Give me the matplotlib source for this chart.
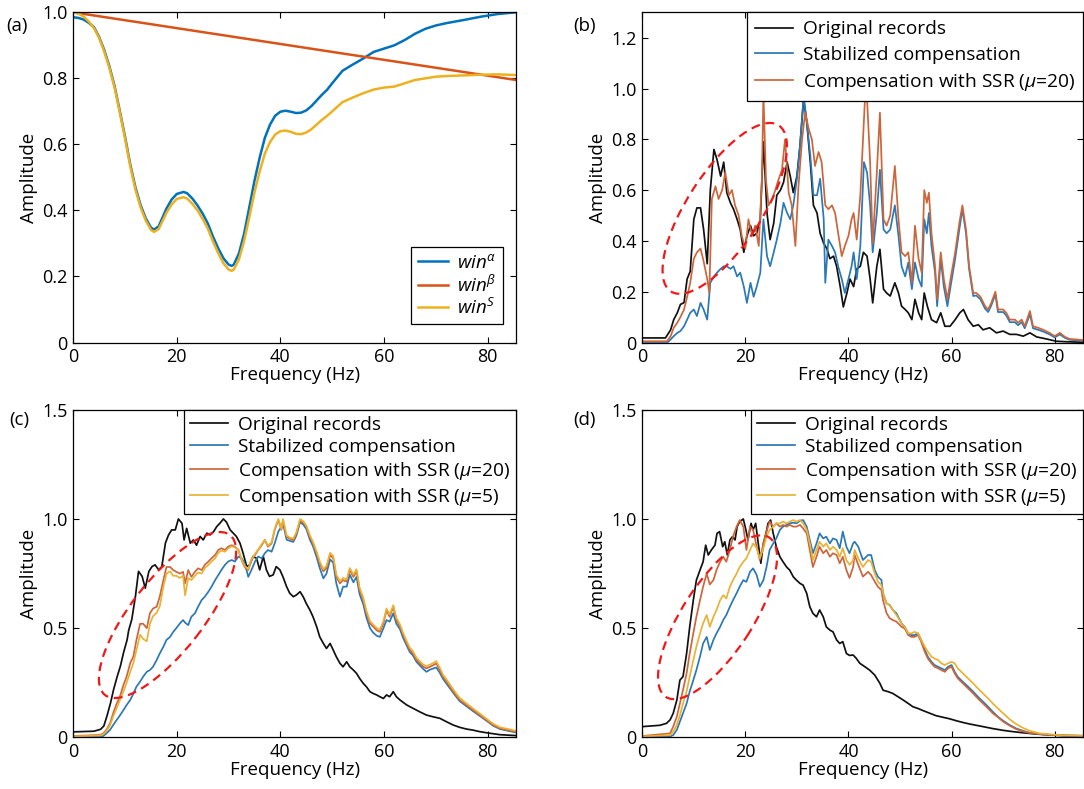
import matplotlib
matplotlib.use('Agg')
import matplotlib.pyplot as plt
from matplotlib.patches import Ellipse
from matplotlib.transforms import ScaledTranslation
from matplotlib.ticker import FuncFormatter

plt.rcParams['font.family'] = ['Open Sans', 'DejaVu Sans']
plt.rcParams['mathtext.fontset'] = 'custom'
plt.rcParams['mathtext.it'] = 'Open Sans:italic'
plt.rcParams['mathtext.rm'] = 'Open Sans'
plt.rcParams['font.size'] = 13

# ---------------- panel (a): window functions ----------------
a_f = [0, 1, 2, 3, 4, 5, 6, 7, 8, 9, 10, 11, 12, 13, 14, 15, 15.6, 16.5, 17, 18, 19, 20, 21.3,
       22, 23, 24, 25, 26, 27, 28, 29, 30, 30.6, 31, 32, 33, 34, 35, 36, 37, 38, 39, 40, 41,
       42, 43, 44, 45, 46, 47, 48, 49, 50, 52, 54, 56, 58, 60, 62, 64, 66, 68, 70, 72, 75.5,
       78.8, 82.1, 85.5]
a_win_alpha = [0.985, 0.983, 0.978, 0.968, 0.955, 0.925, 0.885, 0.835, 0.775, 0.70, 0.623, 0.54,
               0.47, 0.416, 0.376, 0.348, 0.342, 0.352, 0.37, 0.406, 0.433, 0.45, 0.456, 0.452,
               0.436, 0.415, 0.39, 0.36, 0.32, 0.285, 0.255, 0.236, 0.232, 0.236, 0.27, 0.33,
               0.41, 0.49, 0.56, 0.62, 0.66, 0.687, 0.699, 0.702, 0.699, 0.695, 0.696, 0.703,
               0.716, 0.733, 0.75, 0.765, 0.785, 0.823, 0.842, 0.86, 0.88, 0.89, 0.90, 0.916,
               0.935, 0.95, 0.96, 0.967, 0.977, 0.987, 0.995, 1.0]
a_win_s = [1.0, 0.996, 0.987, 0.972, 0.952, 0.922, 0.88, 0.83, 0.77, 0.695, 0.617, 0.534, 0.463,
           0.409, 0.369, 0.341, 0.335, 0.344, 0.36, 0.393, 0.418, 0.435, 0.44, 0.436, 0.42, 0.40,
           0.374, 0.344, 0.305, 0.27, 0.24, 0.221, 0.217, 0.221, 0.252, 0.308, 0.38, 0.455,
           0.518, 0.572, 0.607, 0.63, 0.64, 0.642, 0.638, 0.632, 0.631, 0.636, 0.646, 0.66,
           0.674, 0.686, 0.70, 0.728, 0.742, 0.755, 0.766, 0.772, 0.775, 0.785, 0.795, 0.80,
           0.805, 0.807, 0.809, 0.811, 0.812, 0.81]
a_beta_f = [0, 85.5]
a_win_beta = [1.0, 0.795]

# ---------------- panel (b) ----------------
b_f_black = [0, 4.5, 5.5, 6.1, 6.8, 7.4, 8.1, 8.7, 9.3, 10, 10.6, 11.3, 11.9, 12.6, 13.2, 13.9,
             14.5, 15.2, 15.8, 16.4, 17.1, 17.7, 18.4, 19, 19.7, 20.3, 21, 21.6, 22.2, 22.9,
             23.5, 24.2, 24.8, 25.5, 26.1, 26.8, 27.4, 28.1, 28.7, 29.3, 30, 30.6, 31.3, 31.9,
             32.6, 33.2, 33.9, 34.5, 35.2, 35.8, 36.4, 37.1, 37.7, 38.4, 39, 39.7, 40.3, 41,
             41.6, 42.3, 42.9, 43.6, 44.2, 44.7, 45.5, 46.1, 46.8, 47.4, 48.1, 49, 49.7, 50.3,
             51, 51.6, 52.3, 52.9, 53.6, 54.2, 54.7, 55.3, 56.1, 57.1, 57.9, 58.7, 59.7, 60.7,
             61.6, 62.3, 63.2, 64.2, 65.2, 66.1, 67.4, 68.7, 70, 71.3, 72.6, 73.9, 75.2, 76.5,
             78.4, 80.3, 82.3, 85.5]
b_black = [0.018, 0.018, 0.05, 0.09, 0.117, 0.15, 0.157, 0.25, 0.28, 0.485, 0.53, 0.53, 0.445,
           0.31, 0.60, 0.76, 0.72, 0.655, 0.71, 0.59, 0.55, 0.525, 0.485, 0.445, 0.355, 0.42,
           0.46, 0.42, 0.43, 0.485, 0.79, 0.51, 0.405, 0.47, 0.58, 0.60, 0.63, 0.71, 0.655,
           0.59, 0.655, 0.775, 0.96, 0.87, 0.71, 0.54, 0.51, 0.43, 0.39, 0.37, 0.33, 0.34, 0.30,
           0.22, 0.14, 0.195, 0.25, 0.22, 0.29, 0.30, 0.355, 0.34, 0.25, 0.156, 0.30, 0.367,
           0.21, 0.195, 0.183, 0.235, 0.195, 0.143, 0.13, 0.117, 0.09, 0.17, 0.117, 0.09, 0.195,
           0.143, 0.09, 0.078, 0.117, 0.064, 0.064, 0.09, 0.117, 0.13, 0.09, 0.064, 0.07, 0.05,
           0.058, 0.038, 0.045, 0.032, 0.032, 0.025, 0.038, 0.022, 0.014, 0.005, 0.003, 0.001]
b_f_blue = [0, 5, 5.5, 6.1, 6.8, 7.4, 8.1, 8.7, 9.3, 10, 10.6, 11.3, 11.9, 12.6, 13.2, 13.9, 14.5,
            15.2, 15.8, 16.4, 17.1, 17.7, 18.4, 19, 19.7, 20.3, 21, 21.6, 22.2, 22.9, 23.5, 24.2,
            24.8, 25.5, 26.1, 26.8, 27.4, 28.1, 28.7, 29.3, 30, 30.6, 31.3, 31.9, 32.6, 33.2,
            33.9, 34.5, 35.2, 35.5, 36.1, 36.8, 37.4, 38, 38.7, 39.3, 40, 40.6, 41, 41.6, 42.3,
            43, 43.6, 44.2, 44.7, 45.5, 46.1, 46.8, 47.4, 48.1, 49, 49.7, 50.3, 51, 51.6, 52.3,
            52.9, 53.6, 54.2, 54.7, 55.2, 55.6, 56.1, 56.8, 57.2, 57.9, 58.5, 59.2, 59.8, 60.7,
            61.5, 62.1, 62.8, 63.4, 64.2, 64.8, 65.6, 66.5, 67.1, 67.7, 68.5, 69, 70, 70.6, 71.3,
            72.3, 72.9, 73.6, 74.2, 75.2, 75.8, 76.8, 77.8, 79, 80, 81, 82, 82.9, 84.2, 85.5]
b_blue = [0.002, 0.002, 0.012, 0.025, 0.038, 0.045, 0.064, 0.09, 0.117, 0.13, 0.104, 0.156, 0.13,
          0.09, 0.235, 0.26, 0.275, 0.29, 0.30, 0.30, 0.29, 0.30, 0.26, 0.275, 0.22, 0.156, 0.235,
          0.18, 0.22, 0.275, 0.485, 0.34, 0.30, 0.355, 0.405, 0.47, 0.55, 0.51, 0.485, 0.54,
          0.645, 0.775, 0.97, 0.87, 0.735, 0.58, 0.58, 0.645, 0.485, 0.235, 0.405, 0.38, 0.355,
          0.30, 0.25, 0.195, 0.25, 0.30, 0.355, 0.25, 0.38, 0.71, 0.67, 0.54, 0.355, 0.51, 0.68,
          0.445, 0.43, 0.445, 0.54, 0.42, 0.30, 0.26, 0.315, 0.21, 0.315, 0.25, 0.22, 0.485,
          0.43, 0.51, 0.38, 0.275, 0.143, 0.33, 0.22, 0.143, 0.22, 0.33, 0.445, 0.525, 0.43,
          0.29, 0.183, 0.185, 0.17, 0.133, 0.12, 0.146, 0.19, 0.12, 0.12, 0.107, 0.08, 0.08,
          0.068, 0.08, 0.056, 0.112, 0.056, 0.05, 0.043, 0.032, 0.02, 0.032, 0.018, 0.011, 0.009,
          0.007]
b_f_ssr20 = [0, 4.8, 5.5, 6.1, 6.8, 7.4, 8.1, 8.7, 9.3, 10, 10.6, 11.3, 11.9, 12.6, 13.0, 13.5,
             14.2, 14.8, 15.5, 16.1, 16.8, 17.4, 18, 18.7, 19.3, 20, 20.6, 21.3, 21.9, 22.6, 23.2,
             23.5, 24, 24.5, 25.2, 25.8, 26.4, 27.1, 27.7, 28.4, 29, 29.7, 30.3, 31, 31.6, 32.3,
             32.9, 33.5, 34.2, 34.8, 35.5, 36.1, 36.8, 37.4, 38, 38.7, 39.3, 40, 40.6, 41, 41.6,
             42.3, 43.2, 43.6, 44.2, 44.7, 45.5, 46.1, 46.8, 47.4, 48.1, 49, 49.7, 50.3, 51,
             51.6, 52.3, 52.9, 53.6, 54.2, 54.7, 55.2, 55.6, 56.1, 56.8, 57.2, 57.9, 58.5, 59.2,
             59.8, 60.7, 61.5, 62.1, 62.8, 63.4, 64.2, 64.8, 65.6, 66.5, 67.1, 67.7, 68.5, 69,
             70, 70.6, 71.3, 72.3, 72.9, 73.6, 74.2, 75.2, 75.8, 76.8, 77.8, 79, 80, 81, 82,
             82.9, 84.2, 85.5]
b_ssr20 = [0.005, 0.005, 0.025, 0.058, 0.078, 0.10, 0.13, 0.18, 0.235, 0.33, 0.355, 0.37, 0.32,
           0.25, 0.195, 0.565, 0.615, 0.565, 0.60, 0.67, 0.58, 0.60, 0.54, 0.50, 0.42, 0.37,
           0.485, 0.42, 0.46, 0.38, 0.64, 0.985, 0.64, 0.54, 0.565, 0.60, 0.64, 0.68, 0.80,
           0.59, 0.54, 0.38, 0.615, 0.80, 0.905, 0.84, 0.80, 0.695, 0.75, 0.71, 0.54, 0.525,
           0.54, 0.51, 0.43, 0.34, 0.38, 0.42, 0.485, 0.51, 0.405, 0.58, 0.96, 0.96, 0.71, 0.39,
           0.67, 0.905, 0.485, 0.46, 0.50, 0.695, 0.485, 0.355, 0.34, 0.355, 0.235, 0.46, 0.33,
           0.275, 0.60, 0.55, 0.59, 0.43, 0.30, 0.17, 0.355, 0.25, 0.17, 0.25, 0.355, 0.47,
           0.54, 0.445, 0.30, 0.195, 0.195, 0.18, 0.143, 0.13, 0.156, 0.20, 0.13, 0.13, 0.117,
           0.09, 0.09, 0.078, 0.09, 0.064, 0.124, 0.064, 0.058, 0.05, 0.038, 0.025, 0.038,
           0.022, 0.014, 0.012, 0.009]

# ---------------- panel (c) ----------------
c_f_black = [0, 4, 5.3, 5.9, 6.5, 7.2, 7.8, 8.5, 9.1, 9.7, 10.4, 10.7, 11.3, 12, 12.6, 13.3,
             13.9, 14.6, 15.2, 15.8, 16.5, 17.1, 17.8, 18.4, 19, 19.7, 20.3, 21, 21.4, 21.9,
             22.6, 23.2, 23.8, 24.5, 25.1, 25.8, 26.4, 27.1, 27.7, 28.3, 29, 29.6, 30.3, 30.9,
             31.5, 32.2, 32.8, 33.5, 34.1, 34.7, 35.4, 36, 36.7, 37.3, 37.9, 38.6, 39.2, 39.9,
             40.5, 41.2, 41.8, 42.5, 43.1, 43.8, 44.4, 45, 45.7, 46.3, 47, 47.6, 48.3, 48.9,
             49.6, 50.2, 50.8, 51.5, 52.1, 52.8, 53.4, 54.1, 54.7, 55.3, 56, 56.6, 57.3, 57.9,
             58.6, 59.2, 59.9, 60.5, 61.1, 61.8, 62.4, 63.1, 64.4, 65.6, 66.9, 68.2, 69.5, 70.8,
             72.1, 73.4, 74.6, 75.9, 77.2, 78.5, 79.8, 82.4, 85.5]
c_black = [0.025, 0.028, 0.037, 0.052, 0.097, 0.158, 0.22, 0.28, 0.326, 0.387, 0.447, 0.49,
           0.54, 0.645, 0.76, 0.737, 0.683, 0.76, 0.782, 0.79, 0.767, 0.782, 0.89, 0.927, 0.95,
           0.95, 1.0, 0.98, 0.904, 0.957, 0.889, 0.904, 0.88, 0.92, 0.904, 0.935, 0.927, 0.942,
           0.965, 0.98, 1.0, 0.985, 0.95, 0.935, 0.92, 0.889, 0.843, 0.782, 0.79, 0.828, 0.82,
           0.767, 0.828, 0.767, 0.737, 0.744, 0.782, 0.767, 0.735, 0.69, 0.66, 0.644, 0.652,
           0.667, 0.644, 0.613, 0.583, 0.552, 0.507, 0.46, 0.43, 0.407, 0.43, 0.40, 0.369,
           0.339, 0.323, 0.346, 0.323, 0.308, 0.293, 0.27, 0.247, 0.232, 0.209, 0.201, 0.194,
           0.186, 0.178, 0.194, 0.186, 0.209, 0.186, 0.171, 0.148, 0.133, 0.117, 0.102, 0.094,
           0.087, 0.071, 0.056, 0.046, 0.038, 0.033, 0.026, 0.021, 0.012, 0.008]
c_f = [0, 5.2, 5.8, 6.4, 7.1, 7.7, 8.4, 9, 9.7, 10.3, 11, 11.6, 12.2, 12.9, 13.5, 14.2, 14.8,
       15.4, 16.1, 16.7, 17.4, 18, 18.7, 19.3, 19.9, 20.6, 21.2, 21.6, 22.2, 22.8, 23.5, 24.1,
       24.8, 25.4, 26.1, 26.7, 27.4, 28, 28.6, 29.3, 29.9, 30.6, 31.2, 31.9, 32.5, 33.1, 33.8,
       34.4, 35.1, 35.7, 36.4, 37, 37.6, 38.3, 38.9, 39.6, 40.2, 40.5, 41.2, 41.8, 42.5, 43.1,
       43.8, 44.4, 45, 45.7, 46.3, 47, 47.6, 48.3, 48.9, 49.6, 50.2, 50.8, 51.5, 52.1, 52.8,
       53.4, 54.1, 54.7, 55.3, 56, 56.6, 57.3, 57.9, 58.6, 59.2, 59.9, 60.5, 61.1, 61.8, 62.4,
       63.1, 63.7, 64.4, 65, 65.6, 66.3, 66.9, 67.6, 68.2, 68.9, 69.5, 70.1, 70.8, 71.4, 72.1,
       73.4, 74.6, 75.9, 77.2, 78.5, 79.8, 81.1, 82.4, 85.5]
c_blue = [0.003, 0.004, 0.006, 0.018, 0.034, 0.056, 0.08, 0.10, 0.125, 0.148, 0.171, 0.20,
          0.232, 0.255, 0.278, 0.30, 0.308, 0.323, 0.354, 0.384, 0.415, 0.446, 0.46, 0.483,
          0.50, 0.522, 0.537, 0.525, 0.514, 0.552, 0.568, 0.598, 0.629, 0.644, 0.667, 0.69,
          0.72, 0.743, 0.766, 0.79, 0.805, 0.812, 0.805, 0.828, 0.82, 0.797, 0.735, 0.766,
          0.805, 0.828, 0.82, 0.843, 0.858, 0.85, 0.888, 0.942, 0.965, 0.98, 0.905, 0.90,
          0.895, 0.925, 0.985, 0.975, 0.955, 0.905, 0.875, 0.825, 0.775, 0.728, 0.75, 0.815,
          0.80, 0.705, 0.644, 0.69, 0.69, 0.745, 0.71, 0.735, 0.655, 0.61, 0.55, 0.50, 0.48,
          0.465, 0.46, 0.50, 0.537, 0.53, 0.568, 0.52, 0.495, 0.455, 0.42, 0.39, 0.375, 0.345,
          0.33, 0.313, 0.30, 0.31, 0.315, 0.32, 0.295, 0.268, 0.245, 0.203, 0.166, 0.143, 0.12,
          0.098, 0.076, 0.053, 0.038, 0.022]
c_ssr20 = [0.006, 0.011, 0.018, 0.034, 0.064, 0.11, 0.155, 0.186, 0.24, 0.278, 0.34, 0.37,
           0.446, 0.52, 0.52, 0.50, 0.568, 0.59, 0.598, 0.644, 0.72, 0.78, 0.78, 0.766, 0.758,
           0.75, 0.758, 0.705, 0.766, 0.735, 0.758, 0.774, 0.766, 0.79, 0.805, 0.82, 0.835,
           0.858, 0.866, 0.858, 0.873, 0.88, 0.873, 0.858, 0.812, 0.78, 0.766, 0.812, 0.835,
           0.858, 0.88, 0.904, 0.873, 0.888, 0.95, 0.995, 0.95, 0.995, 0.918, 0.91, 0.903,
           0.934, 0.993, 0.983, 0.965, 0.918, 0.888, 0.842, 0.797, 0.76, 0.775, 0.835, 0.82,
           0.735, 0.705, 0.72, 0.713, 0.766, 0.735, 0.76, 0.675, 0.63, 0.57, 0.522, 0.507, 0.49,
           0.483, 0.522, 0.582, 0.552, 0.598, 0.537, 0.507, 0.468, 0.43, 0.40, 0.384, 0.354,
           0.339, 0.323, 0.316, 0.323, 0.33, 0.339, 0.308, 0.277, 0.254, 0.209, 0.171, 0.148,
           0.125, 0.102, 0.079, 0.056, 0.041, 0.025]
c_ssr5 = [0.004, 0.008, 0.014, 0.028, 0.055, 0.095, 0.135, 0.17, 0.21, 0.25, 0.30, 0.34, 0.40,
          0.47, 0.45, 0.44, 0.52, 0.555, 0.57, 0.60, 0.69, 0.75, 0.76, 0.74, 0.74, 0.73, 0.74,
          0.65, 0.73, 0.72, 0.74, 0.755, 0.75, 0.775, 0.79, 0.805, 0.82, 0.845, 0.855, 0.85,
          0.865, 0.875, 0.87, 0.86, 0.815, 0.785, 0.77, 0.815, 0.84, 0.86, 0.885, 0.905, 0.878,
          0.893, 0.955, 1.0, 0.955, 1.0, 0.925, 0.915, 0.91, 0.94, 1.0, 0.99, 0.97, 0.925,
          0.895, 0.85, 0.805, 0.77, 0.785, 0.845, 0.83, 0.745, 0.715, 0.73, 0.723, 0.775, 0.745,
          0.77, 0.685, 0.64, 0.58, 0.532, 0.517, 0.50, 0.493, 0.532, 0.59, 0.562, 0.605, 0.547,
          0.517, 0.478, 0.44, 0.41, 0.394, 0.364, 0.349, 0.333, 0.326, 0.333, 0.34, 0.349,
          0.318, 0.287, 0.264, 0.219, 0.181, 0.156, 0.132, 0.109, 0.085, 0.062, 0.046, 0.03]

# ---------------- panel (d) ----------------
d_f_black = [0, 3.4, 4.7, 5.4, 6, 6.7, 7.3, 7.9, 8.6, 9.2, 9.9, 10.5, 11.2, 11.8, 12.3, 12.8,
             13.4, 14.1, 14.5, 15, 15.6, 16, 16.5, 17, 17.5, 18, 18.4, 18.9, 19.6, 20.1, 20.5,
             21.1, 21.5, 22, 22.5, 23, 23.5, 24, 24.4, 24.9, 25.4, 26, 26.7, 27.3, 28, 28.6, 29.3,
             29.9, 30.6, 31.2, 31.9, 32.5, 33.1, 33.8, 34.4, 35.1, 35.7, 36.4, 37, 37.7, 38.3,
             38.9, 39.6, 40.2, 40.9, 41.5, 42.2, 43.2, 44.1, 45.1, 46.1, 46.7, 47.7, 48.6, 49.6,
             50.6, 51.6, 52.5, 53.5, 54.5, 55.8, 57, 58.3, 59.6, 60.9, 62.2, 63.5, 64.8, 66.1,
             68, 70, 71.9, 73.8, 76.4, 79, 82.2, 85.5]
d_black = [0.049, 0.055, 0.064, 0.08, 0.11, 0.17, 0.262, 0.278, 0.384, 0.506, 0.628, 0.72,
           0.766, 0.804, 0.88, 0.835, 0.858, 0.88, 0.934, 0.942, 0.873, 0.896, 0.835, 0.904,
           0.919, 0.904, 0.965, 0.988, 1.0, 0.95, 0.904, 0.98, 0.95, 0.98, 0.888, 0.797, 0.888,
           0.934, 0.98, 0.995, 0.934, 0.873, 0.827, 0.804, 0.78, 0.766, 0.735, 0.72, 0.705,
           0.697, 0.659, 0.598, 0.568, 0.552, 0.583, 0.552, 0.506, 0.491, 0.483, 0.446, 0.43,
           0.438, 0.384, 0.375, 0.377, 0.362, 0.339, 0.323, 0.308, 0.285, 0.247, 0.216, 0.209,
           0.201, 0.186, 0.171, 0.155, 0.14, 0.132, 0.122, 0.11, 0.099, 0.092, 0.085, 0.076,
           0.068, 0.061, 0.055, 0.049, 0.04, 0.032, 0.026, 0.021, 0.015, 0.011, 0.007, 0.006]
d_f = [0, 5.4, 6, 6.7, 7.3, 7.9, 8.6, 9.2, 9.9, 10.5, 11.2, 11.8, 12.5, 13.1, 13.8, 14.4, 15.1,
       15.7, 16.3, 17, 17.6, 18.3, 18.9, 19.6, 20.2, 20.9, 21.5, 22.2, 22.8, 23.5, 24.1, 24.7,
       25.4, 26, 26.7, 27.3, 28, 28.6, 29.3, 29.9, 30.6, 31.2, 31.9, 32.5, 33.1, 33.8, 34.4,
       35.1, 35.7, 36.4, 37, 37.7, 38.3, 38.9, 39.6, 40.2, 40.9, 41.2, 41.9, 42.8, 43.8, 44.4,
       45.1, 45.7, 46.4, 46.7, 47.4, 48, 48.6, 49.3, 50.3, 50.9, 51.6, 52.2, 52.8, 53.5, 54.1,
       54.8, 55.4, 56.1, 56.7, 57.4, 58, 58.7, 59.3, 60, 60.6, 61.2, 62.2, 63.2, 64.2, 65.1,
       66.1, 67.1, 68, 69, 70, 71.3, 72.5, 73.8, 75.1, 77.1, 79, 81.6, 85.5]
d_blue = [0.003, 0.004, 0.01, 0.034, 0.072, 0.11, 0.155, 0.21, 0.262, 0.308, 0.37, 0.43, 0.46,
          0.40, 0.446, 0.476, 0.506, 0.537, 0.56, 0.598, 0.628, 0.66, 0.69, 0.72, 0.712, 0.758,
          0.774, 0.743, 0.69, 0.72, 0.78, 0.858, 0.888, 0.911, 0.95, 0.965, 0.973, 0.98, 0.983,
          0.98, 0.992, 0.995, 0.965, 0.904, 0.843, 0.888, 0.934, 0.911, 0.919, 0.888, 0.911,
          0.904, 0.866, 0.942, 0.873, 0.843, 0.888, 0.896, 0.873, 0.812, 0.835, 0.835, 0.766,
          0.736, 0.72, 0.66, 0.613, 0.606, 0.583, 0.568, 0.522, 0.506, 0.476, 0.468, 0.468,
          0.476, 0.446, 0.40, 0.369, 0.346, 0.331, 0.323, 0.316, 0.308, 0.323, 0.331, 0.30,
          0.277, 0.254, 0.232, 0.209, 0.186, 0.163, 0.14, 0.117, 0.094, 0.076, 0.056, 0.041,
          0.03, 0.021, 0.015, 0.011, 0.009, 0.007]
d_ssr20 = [0.006, 0.018, 0.049, 0.094, 0.155, 0.217, 0.293, 0.384, 0.476, 0.552, 0.628, 0.69,
           0.75, 0.70, 0.72, 0.766, 0.804, 0.827, 0.804, 0.858, 0.919, 0.965, 0.995, 0.965,
           0.858, 0.965, 0.95, 0.873, 0.812, 0.888, 0.942, 0.988, 0.965, 0.98, 0.965, 0.973,
           0.965, 0.973, 0.965, 0.965, 0.973, 0.957, 0.934, 0.858, 0.78, 0.827, 0.873, 0.843,
           0.858, 0.827, 0.843, 0.835, 0.797, 0.827, 0.766, 0.73, 0.78, 0.835, 0.79, 0.736,
           0.758, 0.743, 0.713, 0.69, 0.674, 0.628, 0.568, 0.545, 0.537, 0.53, 0.506, 0.499,
           0.468, 0.46, 0.46, 0.468, 0.438, 0.392, 0.361, 0.339, 0.323, 0.316, 0.308, 0.30,
           0.316, 0.323, 0.293, 0.27, 0.247, 0.224, 0.201, 0.178, 0.155, 0.132, 0.11, 0.092,
           0.072, 0.053, 0.038, 0.027, 0.021, 0.015, 0.012, 0.009, 0.007]
d_ssr5 = [0.004, 0.01, 0.026, 0.056, 0.10, 0.155, 0.21, 0.278, 0.354, 0.415, 0.476, 0.522, 0.56,
          0.506, 0.552, 0.583, 0.628, 0.651, 0.636, 0.69, 0.72, 0.75, 0.78, 0.804, 0.82, 0.858,
          0.888, 0.866, 0.82, 0.866, 0.919, 0.95, 0.965, 0.98, 0.98, 0.988, 0.98, 0.988, 0.995,
          0.988, 0.995, 0.98, 0.95, 0.888, 0.812, 0.858, 0.896, 0.873, 0.888, 0.858, 0.873,
          0.858, 0.827, 0.866, 0.812, 0.79, 0.81, 0.858, 0.82, 0.78, 0.812, 0.804, 0.75, 0.713,
          0.697, 0.66, 0.613, 0.606, 0.583, 0.56, 0.522, 0.506, 0.476, 0.476, 0.483, 0.476,
          0.446, 0.415, 0.392, 0.369, 0.361, 0.354, 0.339, 0.331, 0.339, 0.346, 0.339, 0.316,
          0.293, 0.27, 0.247, 0.224, 0.201, 0.178, 0.155, 0.132, 0.11, 0.082, 0.061, 0.044, 0.03,
          0.018, 0.014, 0.009, 0.007]

labels_bcd = ['Original records', 'Stabilized compensation',
              r'Compensation with SSR ($\mu$=20)', r'Compensation with SSR ($\mu$=5)']

BLUE, ORANGE, YELLOW = '#0072BD', '#D95319', '#EDB120'
BLUE2, ORANGE2, YELLOW2 = '#2a78b6', '#cd653b', '#e8b234'
XMAX = 85.5
LW = 1.25

fig = plt.figure(figsize=(10.84, 7.89), dpi=100)
ax_a = fig.add_axes([0.0676, 0.5659, 0.4084, 0.4185])
ax_b = fig.add_axes([0.5925, 0.5659, 0.4066, 0.4185])
ax_c = fig.add_axes([0.0676, 0.0655, 0.4084, 0.4151])
ax_d = fig.add_axes([0.5925, 0.0655, 0.4066, 0.4151])


def style(ax, ymax, yticks):
    ax.set_xlim(0, XMAX)
    ax.set_ylim(0, ymax)
    ax.set_xticks([0, 20, 40, 60, 80])
    ax.set_yticks(yticks)
    ax.yaxis.set_major_formatter(FuncFormatter(lambda v, p: '0' if v == 0 else f'{v:.1f}'))
    ax.tick_params(direction='in', top=True, right=True, length=4, width=0.8,
                   labelsize=13, pad=4)
    for s in ax.spines.values():
        s.set_linewidth(0.9)
    ax.set_xlabel('Frequency (Hz)', fontsize=13.5, labelpad=0)
    ax.set_ylabel('Amplitude', fontsize=13.5, labelpad=3)


def ellipse(ax, cx, cy, a, b, ang):
    tr = fig.dpi_scale_trans + ScaledTranslation(cx, cy, ax.transData)
    ax.add_patch(Ellipse((0, 0), 2 * a, 2 * b, angle=ang, fill=False, ec='#f01818',
                         lw=1.6, ls=(0, (4, 2.6)), transform=tr, zorder=5))


def legend(ax, spacing=0.22, pad=0.3):
    leg = ax.legend(loc='upper right', bbox_to_anchor=(1.0, 1.0), borderaxespad=0,
                    fontsize=13.8, frameon=True, fancybox=False, edgecolor='black',
                    framealpha=1, handlelength=2.0, handletextpad=0.5, labelspacing=spacing,
                    borderpad=pad)
    leg.get_frame().set_linewidth(0.9)


# (a)
ax_a.plot(a_f, a_win_alpha, color=BLUE, lw=1.8, label=r'$\mathit{win}^{\alpha}$')
ax_a.plot(a_beta_f, a_win_beta, color=ORANGE, lw=1.8, label=r'$\mathit{win}^{\beta}$')
ax_a.plot(a_f, a_win_s, color=YELLOW, lw=1.8, label=r'$\mathit{win}^{S}$')
style(ax_a, 1.0, [0, 0.2, 0.4, 0.6, 0.8, 1.0])
leg = ax_a.legend(loc='lower right', bbox_to_anchor=(0.97, 0.055), borderaxespad=0,
                  fontsize=13.5, frameon=True, fancybox=False, edgecolor='black', framealpha=1,
                  handlelength=1.6, handletextpad=0.5, labelspacing=0.12, borderpad=0.35)
leg.get_frame().set_linewidth(0.9)

# (b)
ax_b.plot(b_f_black, b_black, color='#111111', lw=LW, label=labels_bcd[0])
ax_b.plot(b_f_blue, b_blue, color=BLUE2, lw=LW, label=labels_bcd[1])
ax_b.plot(b_f_ssr20, b_ssr20, color=ORANGE2, lw=LW, label=labels_bcd[2])
style(ax_b, 1.3, [0, 0.2, 0.4, 0.6, 0.8, 1.0, 1.2])
legend(ax_b, spacing=0.38, pad=0.42)
ellipse(ax_b, 16.0, 0.528, 0.99, 0.37, 57)

# (c)
ax_c.plot(c_f_black, c_black, color='#111111', lw=LW, label=labels_bcd[0])
ax_c.plot(c_f, c_blue, color=BLUE2, lw=LW, label=labels_bcd[1])
ax_c.plot(c_f, c_ssr20, color=ORANGE2, lw=LW, label=labels_bcd[2])
ax_c.plot(c_f, c_ssr5, color=YELLOW2, lw=LW, label=labels_bcd[3])
style(ax_c, 1.5, [0, 0.5, 1.0, 1.5])
legend(ax_c)
ellipse(ax_c, 18.2, 0.56, 1.015, 0.36, 52)

# (d)
ax_d.plot(d_f_black, d_black, color='#111111', lw=LW, label=labels_bcd[0])
ax_d.plot(d_f, d_blue, color=BLUE2, lw=LW, label=labels_bcd[1])
ax_d.plot(d_f, d_ssr20, color=ORANGE2, lw=LW, label=labels_bcd[2])
ax_d.plot(d_f, d_ssr5, color=YELLOW2, lw=LW, label=labels_bcd[3])
style(ax_d, 1.5, [0, 0.5, 1.0, 1.5])
legend(ax_d)
ellipse(ax_d, 14.6, 0.55, 0.95, 0.35, 57)

for x, y, t in [(0.0157, 0.967, '(a)'), (0.539, 0.967, '(b)'),
                (0.0175, 0.468, '(c)'), (0.539, 0.468, '(d)')]:
    fig.text(x, y, t, ha='center', va='center', fontsize=13.5)

fig.savefig('out.png', dpi=100)
